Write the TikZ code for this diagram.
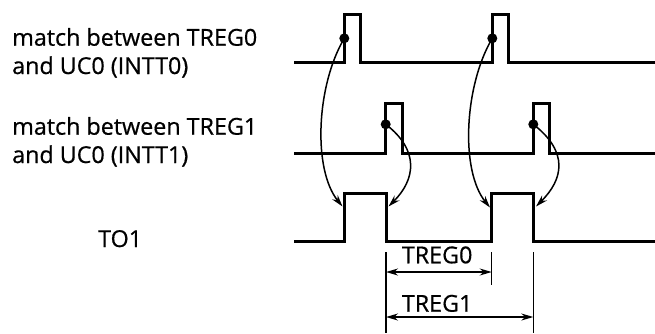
\documentclass[tikz,border=0pt]{standalone}
\usepackage{fontspec}
\setmainfont[FakeBold=0.6]{Open Sans}
\usetikzlibrary{arrows.meta}
\tikzset{
  wave/.style={line width=3pt, line join=miter},
  lead/.style={line width=1.5pt, -{Stealth[length=12pt,width=7pt]}},
  dimarrow/.style={line width=1.4pt, {Stealth[length=12pt,width=7pt]}-{Stealth[length=12pt,width=7pt]}},
  extline/.style={line width=1.5pt},
  lbl/.style={font=\fontsize{23.3}{28.3}\selectfont, inner sep=0pt, align=left}
}
\begin{document}
\begin{tikzpicture}[x=1pt,y=-1pt]
\useasboundingbox (0,0) rectangle (655,333);
% labels
\node[lbl, anchor=base west] (m0) at (12,74) {match between TREG0\\and UC0 (INTT0)};
\node[lbl, anchor=base west] (m1) at (12,163) {match between TREG1\\and UC0 (INTT1)};
\node[lbl, anchor=base west] (to1) at (98,247) {TO1};
% waveforms
\draw[wave] (294,62) -- (344.3,62) -- (344.3,14) -- (360.7,14) -- (360.7,62)
  -- (492.3,62) -- (492.3,14) -- (508.7,14) -- (508.7,62) -- (655,62);
\draw[wave] (294,153.3) -- (385.7,153.3) -- (385.7,103.7) -- (402.3,103.7) -- (402.3,153.3)
  -- (533.3,153.3) -- (533.3,103.7) -- (549.3,103.7) -- (549.3,153.3) -- (655,153.3);
\draw[wave] (294,241.7) -- (344.3,241.7) -- (344.3,193.3) -- (386,193.3) -- (386,241.7)
  -- (491.7,241.7) -- (491.7,193.3) -- (533.3,193.3) -- (533.3,241.7) -- (655,241.7);
% match points
\coordinate (a0) at (344.3,38.3);
\coordinate (a1) at (492.3,38.3);
\coordinate (b0) at (385.7,124.3);
\coordinate (b1) at (533.3,124.3);
\coordinate (r0) at (342.5,206.5);
\coordinate (f0) at (388.5,206.5);
\coordinate (r1) at (490,207.5);
\coordinate (f1) at (536,206.5);
\foreach \p in {a0,a1,b0,b1} \fill (\p) circle (5pt);
\draw[lead] (a0) .. controls +(-28,47) and +(-30,-37) .. (r0);
\draw[lead] (a1) .. controls +(-28,47) and +(-30,-37) .. (r1);
\draw[lead] (b0) .. controls +(34,26) and +(27,-27) .. (f0);
\draw[lead] (b1) .. controls +(36,28) and +(27,-27) .. (f1);
% dimensions
\coordinate (e0) at (386,252);
\coordinate (e1) at (491.7,252);
\coordinate (e2) at (533.3,252);
\draw[extline] (e0) -- (386,333);
\draw[extline] (e1) -- (491.7,285);
\draw[extline] (e2) -- (533.3,333);
\coordinate (d0a) at (386,272);
\coordinate (d0b) at (491.7,272);
\coordinate (d1a) at (386,317);
\coordinate (d1b) at (533.3,317);
\draw[dimarrow] (d0a) -- (d0b);
\draw[dimarrow] (d1a) -- (d1b);
\node[lbl, anchor=base west] (t0) at (401.7,263.3) {TREG0};
\node[lbl, anchor=base west] (t1) at (401.7,311.7) {TREG1};
\end{tikzpicture}
\end{document}
